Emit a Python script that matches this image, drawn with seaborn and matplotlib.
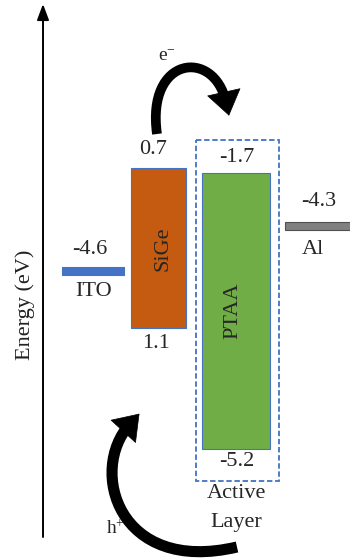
import matplotlib
matplotlib.use("Agg")
import matplotlib.pyplot as plt
import seaborn as sns
from matplotlib.patches import Rectangle, PathPatch
from matplotlib.path import Path

# energy values printed on the diagram (eV)
materials = ["ITO", "SiGe", "PTAA", "Al"]
upper_level = [-4.6, 0.7, -1.7, -4.3]
lower_level = [None, 1.1, -5.2, None]

# schematic layout (diagram is not to scale), in pixel-like units
box_left = [62, 131, 202, 285]
box_right = [124, 186, 270, 352]
box_top = [267, 168, 173, 222]
box_bottom = [275, 328, 449, 230]
fills = ["#4472C4", "#C55A11", "#70AD47", "#808080"]
edges = ["#4472C4", "#4472C4", "#4472C4", "#4F4F4F"]

sns.set_theme(style="white")
plt.rcParams["font.family"] = ["Liberation Serif", "DejaVu Serif"]
plt.rcParams["mathtext.fontset"] = "custom"
plt.rcParams["mathtext.rm"] = "Liberation Serif"
plt.rcParams["mathtext.it"] = "Liberation Serif"

fig = plt.figure(figsize=(3.5, 5.59), dpi=100)
ax = fig.add_axes([0, 0, 1, 1])
ax.set_xlim(0, 350)
ax.set_ylim(559, 0)
ax.axis("off")

fs = 16

# energy axis
ax.annotate("", xy=(43, 4), xytext=(43, 537),
            arrowprops=dict(arrowstyle="-|>,head_length=0.8,head_width=0.3",
                            color="black", lw=1.4, shrinkA=0, shrinkB=0))
ax.text(25, 305, "Energy (eV)", rotation=90, ha="center", va="center",
        fontsize=fs, color="#222222")

# levels / bands
for i, name in enumerate(materials):
    ax.add_patch(Rectangle((box_left[i], box_top[i]),
                           box_right[i] - box_left[i],
                           box_bottom[i] - box_top[i],
                           facecolor=fills[i], edgecolor=edges[i], lw=0.8))

# dashed active layer box
ax.add_patch(Rectangle((196, 140), 83, 341, fill=False,
                       edgecolor="#4472C4", lw=1.3, ls=(0, (3, 1.5))))

# numbers
ax.text(90, 249, f"{upper_level[0]:.1f}", ha="center", va="center", fontsize=fs)
ax.text(153, 150, f"{upper_level[1]:.1f}", ha="center", va="center", fontsize=fs)
ax.text(237, 158, f"{upper_level[2]:.1f}", ha="center", va="center", fontsize=fs)
ax.text(319, 201, f"{upper_level[3]:.1f}", ha="center", va="center", fontsize=fs)
ax.text(156, 343, f"{lower_level[1]:.1f}", ha="center", va="center", fontsize=fs)
ax.text(237, 462, f"{lower_level[2]:.1f}", ha="center", va="center", fontsize=fs)

# material names
ax.text(94, 292, materials[0], ha="center", va="center", fontsize=fs)
ax.text(163, 249, materials[1], ha="center", va="center", fontsize=fs,
        rotation=90)
ax.text(233, 311, materials[2], ha="center", va="center", fontsize=fs,
        rotation=90)
ax.text(313, 250, materials[3], ha="center", va="center", fontsize=fs)
ax.text(236, 493, "Active", ha="center", va="center", fontsize=fs)
ax.text(236, 522, "Layer", ha="center", va="center", fontsize=fs)


def curved_arrow(p0, c1, c2, p1, lw, head=14):
    body = Path([p0, c1, c2, p1],
                [Path.MOVETO, Path.CURVE4, Path.CURVE4, Path.CURVE4])
    ax.add_patch(PathPatch(body, fill=False, edgecolor="black", lw=lw,
                           capstyle="butt"))
    dx, dy = p1[0] - c2[0], p1[1] - c2[1]
    n = (dx ** 2 + dy ** 2) ** 0.5
    tip = (p1[0] + head * dx / n, p1[1] + head * dy / n)
    ax.annotate("", xy=tip, xytext=p1,
                arrowprops=dict(arrowstyle="-|>,head_length=1.2,head_width=0.85",
                                color="black", lw=0.5,
                                shrinkA=0, shrinkB=0, mutation_scale=14))


# carrier arrows
curved_arrow((157, 134), (146, 56), (214, 48), (226, 102), 7)
curved_arrow((237, 547), (118, 575), (88, 470), (130, 424), 8)

ax.text(167, 56, r"e$^{-}$", ha="center", va="center", fontsize=14)
ax.text(115, 529, r"h$^{+}$", ha="center", va="center", fontsize=14)

fig.savefig("out.png", dpi=100)
